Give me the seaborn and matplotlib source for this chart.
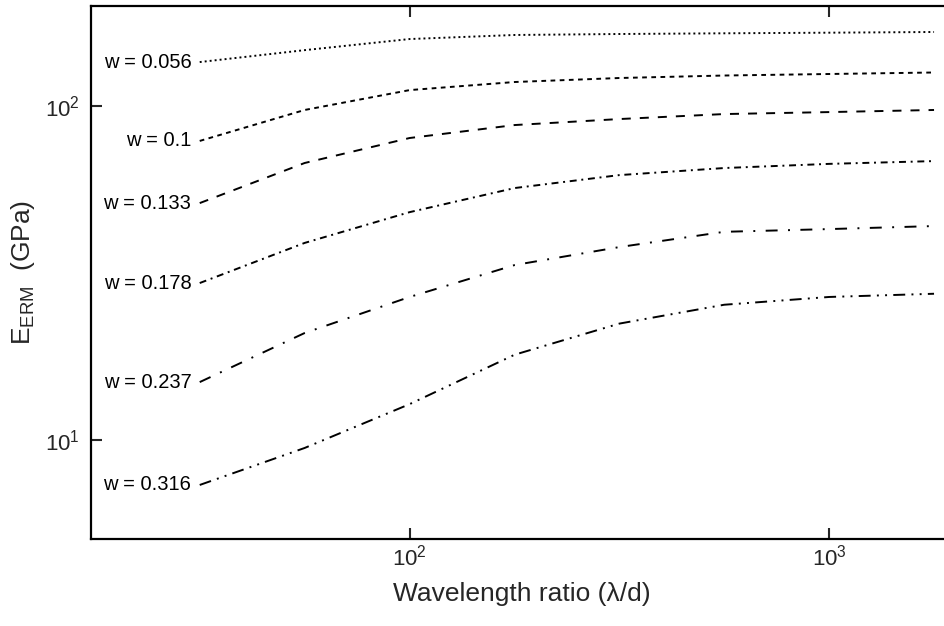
import numpy as np
import pandas as pd
import seaborn as sns
import matplotlib
matplotlib.use("Agg")
import matplotlib.pyplot as plt

# wavelength ratio (lambda/d) at which each curve was evaluated
ratio = [31.6, 56.2, 100, 178, 316, 562, 1000, 1778]

# E_ERM (GPa) per crack width w
w_labels = ["w = 0.056", "w = 0.1", "w = 0.133", "w = 0.178", "w = 0.237", "w = 0.316"]
e_056 = [135.4, 147.0, 158.7, 163.2, 164.3, 165.1, 165.8, 166.6]
e_100 = [78.6, 97.3, 111.6, 118.0, 121.3, 123.4, 124.7, 126.0]
e_133 = [51.2, 67.5, 80.2, 87.7, 91.4, 94.6, 95.9, 97.3]
e_178 = [29.5, 38.9, 48.1, 56.8, 62.1, 65.2, 67.1, 68.4]
e_237 = [14.9, 20.9, 26.8, 33.4, 37.8, 42.0, 42.8, 43.7]
e_316 = [7.33, 9.46, 12.8, 18.0, 22.3, 25.4, 26.8, 27.4]

series = [e_056, e_100, e_133, e_178, e_237, e_316]

# long-form table for seaborn
rows = []
for lab, vals in zip(w_labels, series):
    for r, v in zip(ratio, vals):
        rows.append({"ratio": r, "E": v, "w": lab})
df = pd.DataFrame(rows)

sns.set_theme(style="ticks")
plt.rcParams["font.family"] = ["Liberation Sans", "DejaVu Sans"]
plt.rcParams["mathtext.default"] = "regular"
plt.rcParams["lines.scale_dashes"] = False

# dash patterns (points): dotted, short dash, long dash, dash-dot, long dash-dot, dash-dot-dot
dash_list = [
    (1.4, 2.2),
    (3.4, 3.2),
    (6.5, 6.5),
    (5.0, 3.4, 1.4, 3.4),
    (8.6, 7.5, 1.4, 7.5),
    (8.6, 4.5, 1.4, 4.5, 1.4, 4.5),
]

fig = plt.figure(figsize=(9.44, 6.26), dpi=100)
# the axes runs a little past the right edge of the figure (cropped, as in the original)
ax = fig.add_axes([91 / 944, 87 / 626, (953 - 91) / 944, (539 - 6) / 626])

sns.lineplot(data=df, x="ratio", y="E", style="w", style_order=w_labels,
             dashes=dash_list, color="black", linewidth=1.4, legend=False,
             sort=False, ax=ax)

ax.set_xscale("log")
ax.set_yscale("log")
ax.set_xlim(17.4, 1973)
ax.set_ylim(5.05, 199.3)

# curve labels at the left end of each line
for lab, vals in zip(w_labels, series):
    ax.annotate(lab, xy=(ratio[0], vals[0]), xytext=(-6, 0),
                textcoords="offset points", ha="right", va="center",
                fontsize=14.5, color="black")

ax.set_xticks([100, 1000])
ax.set_yticks([10, 100])
ax.minorticks_off()
ax.tick_params(which="major", direction="in", length=8, width=1.5,
               labelsize=16, top=True, right=False)
ax.tick_params(axis="x", pad=4)
ax.tick_params(axis="y", pad=8)
for side in ["left", "bottom", "top", "right"]:
    ax.spines[side].set_linewidth(1.6)
    ax.spines[side].set_color("black")

ax.set_xlabel("Wavelength ratio (\u03bb/d)", fontsize=19, labelpad=8)
ax.set_ylabel("E$_{ERM}$  (GPa)", fontsize=19, labelpad=6)

fig.savefig("out.png", dpi=100)
